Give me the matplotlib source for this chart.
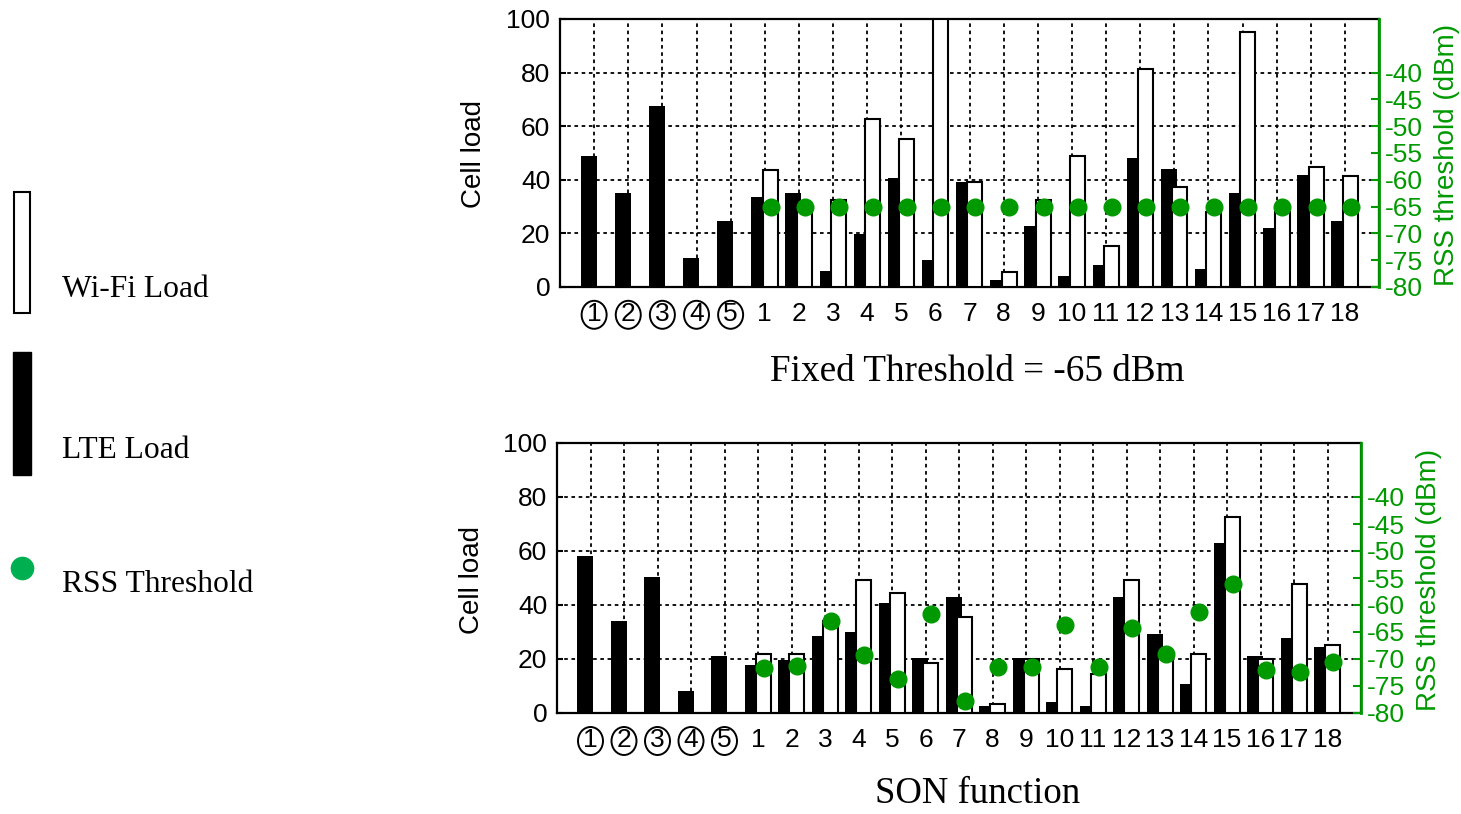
import matplotlib.pyplot as plt
import matplotlib.transforms as mtransforms
from matplotlib.patches import Rectangle, Ellipse
from matplotlib.lines import Line2D

plt.rcParams['font.family'] = ['Liberation Sans', 'DejaVu Sans']

# x categories: 5 circled ones, then SON functions 1..18
circled = ['1', '2', '3', '4', '5']
son_labels = ['1', '2', '3', '4', '5', '6', '7', '8', '9', '10',
              '11', '12', '13', '14', '15', '16', '17', '18']
tick_labels = circled + son_labels

# top panel: fixed threshold
lte_fixed = [49, 35, 67.5, 10.7, 24.5,
             33.5, 35, 5.9, 19.8, 40.8, 10, 39.1, 2.5, 22.9, 4.2,
             8.3, 48.2, 44, 6.7, 35.1, 22, 41.7, 24.7]
wifi_fixed = [43.8, 30, 32.6, 62.6, 55.3, 100, 39, 5.6, 32.6, 48.8,
              15.4, 81.3, 37.4, 27.8, 95.1, 28, 44.8, 41.5]
rss_fixed = [-65, -65, -65, -65, -65, -65, -65, -65, -65, -65,
             -65, -65, -65, -65, -65, -65, -65, -65]

# bottom panel: SON function
lte_son = [58.3, 34.1, 50.2, 8.3, 21.1,
           17.9, 19.8, 28.4, 30.1, 40.6, 20.4, 43, 2.7, 20.2, 4.2,
           2.7, 43, 29.3, 10.7, 63.1, 21.1, 27.7, 24.4]
wifi_son = [21.9, 21.9, 34, 49.3, 44.4, 18.6, 35.5, 3.3, 20, 16.3,
            14.6, 49.3, 21.5, 21.9, 72.6, 20.1, 47.7, 25.1]
rss_son = [-71.7, -71.3, -62.9, -69.3, -73.7, -61.7, -77.7, -71.4, -71.4,
           -63.7, -71.4, -64.2, -69, -61.3, -56.1, -72.1, -72.5, -70.5]

green = '#009900'
W, H = 1461, 814

fig = plt.figure(figsize=(W / 100, H / 100), dpi=100)


def panel(rect, lte, wifi, rss):
    ax = fig.add_axes(rect)
    xs = list(range(len(lte)))
    xw = [i + len(circled) for i in range(len(wifi))]
    ax.bar([x - 0.16 for x in xs], lte, width=0.47, color='black', zorder=2)
    ax.bar([x + 0.16 for x in xw], wifi, width=0.44, color='white',
           edgecolor='black', linewidth=1.5, zorder=3)
    ax.set_xlim(-1, 23)
    ax.set_ylim(0, 100)
    ax.set_yticks([0, 20, 40, 60, 80, 100])
    ax.set_xticks(xs)
    ax.set_xticklabels(tick_labels)
    ax.tick_params(axis='x', length=0, pad=11, labelsize=19)
    ax.tick_params(axis='y', direction='in', length=4, width=1.5, pad=7,
                   labelsize=19)
    ax.set_axisbelow(True)
    ax.grid(True, color='black', linestyle=(0, (2, 2)), linewidth=1.3)
    for s in ax.spines.values():
        s.set_linewidth(1.6)

    # ellipses around the first five labels
    for i in range(len(circled)):
        t = fig.dpi_scale_trans + mtransforms.ScaledTranslation(
            i, -0.1, ax.get_xaxis_transform())
        ax.add_artist(Ellipse((0, -0.01), 0.25, 0.28, transform=t,
                              fill=False, ec='black', lw=1.4, clip_on=False))

    ax2 = ax.twinx()
    ax2.plot([x + 0.17 for x in xw], rss, linestyle='none', marker='o',
             ms=12, color=green, zorder=5)
    ax2.set_ylim(-80, -30)
    ax2.set_yticks([-80, -75, -70, -65, -60, -55, -50, -45, -40])
    ax2.set_yticklabels(['-80', '-75', '-70', '-65', '-60', '-55', '-50',
                         '-45', '-40'])
    ax2.tick_params(axis='y', direction='in', length=6, width=1.5, pad=4,
                    labelsize=19, colors=green)
    for k in ['left', 'top', 'bottom']:
        ax2.spines[k].set_visible(False)
    ax2.spines['right'].set_color(green)
    ax2.spines['right'].set_linewidth(2)
    return ax


panel([560 / W, 1 - 287 / H, 819 / W, 268 / H], lte_fixed, wifi_fixed, rss_fixed)
panel([557 / W, 1 - 713 / H, 804 / W, 270 / H], lte_son, wifi_son, rss_son)

fig.text(474 / W, 1 - 153.5 / H, 'Cell load', rotation=90, ha='center',
         va='center', fontsize=20)
fig.text(472 / W, 1 - 580 / H, 'Cell load', rotation=90, ha='center',
         va='center', fontsize=20)
fig.text(1447 / W, 1 - 154.5 / H, 'RSS threshold (dBm)', rotation=90,
         ha='center', va='center', fontsize=20, color=green)
fig.text(1429 / W, 1 - 580 / H, 'RSS threshold (dBm)', rotation=90,
         ha='center', va='center', fontsize=20, color=green)

serif = ['Liberation Serif', 'DejaVu Serif']
fig.text(977 / W, 1 - 372 / H, 'Fixed Threshold = -65 dBm', ha='center',
         va='center', fontsize=26.7, family=serif)
fig.text(978 / W, 1 - 794 / H, 'SON function', ha='center', va='center',
         fontsize=26.5, family=serif)

# legend on the left
fig.add_artist(Rectangle((14 / W, 1 - 313 / H), 16 / W, 121 / H,
                         transform=fig.transFigure, fc='white', ec='black',
                         lw=1.5))
fig.add_artist(Rectangle((13 / W, 1 - 475 / H), 18 / W, 123 / H,
                         transform=fig.transFigure, fc='black', ec='black',
                         lw=1))
fig.add_artist(Line2D([22 / W], [1 - 568 / H], marker='o', ms=16,
                      color='#00b050', transform=fig.transFigure))
fig.text(62 / W, 1 - 297 / H, 'Wi-Fi Load', va='baseline', fontsize=22.7,
         family=serif)
fig.text(62 / W, 1 - 458 / H, 'LTE Load', va='baseline', fontsize=22.7,
         family=serif)
fig.text(62 / W, 1 - 592 / H, 'RSS Threshold', va='baseline', fontsize=22.7,
         family=serif)

fig.savefig('out.png', dpi=100)
